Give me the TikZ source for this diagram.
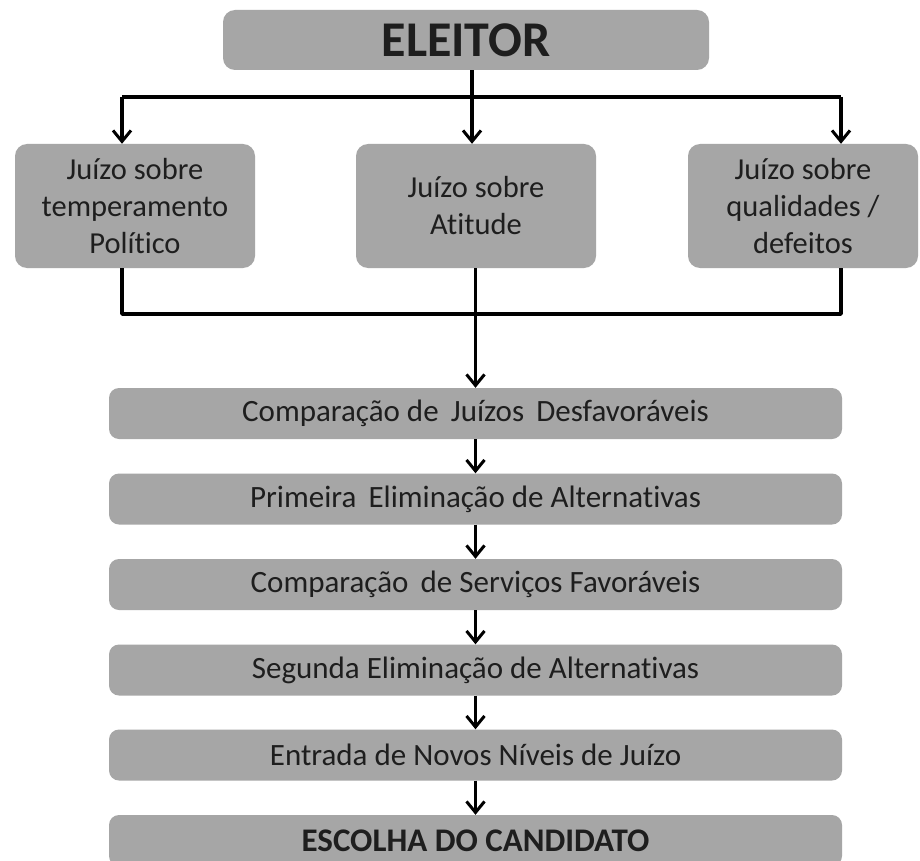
\documentclass[tikz,border=0pt]{standalone}
\usepackage{fontspec}
\setmainfont{Carlito}[Ligatures=NoCommon]
\usepackage{tikz}
\usetikzlibrary{arrows.meta,positioning,calc}
\definecolor{boxgray}{RGB}{166,166,166}
\definecolor{txtdark}{RGB}{30,30,30}
\tikzset{
  box/.style={fill=boxgray, rounded corners=12pt, inner sep=0pt, align=center, text=txtdark},
  bar/.style={box, rounded corners=10pt, minimum width=733pt, minimum height=51pt},
  judge/.style={box, minimum width=240pt, minimum height=124pt, font=\fontsize{30.5}{37}\selectfont},
  link/.style={line width=3.5pt, line join=round, -{Straight Barb[length=11pt,width=18pt,line width=3pt]}},
  wire/.style={line width=3.5pt, line join=round}
}
\begin{document}
\begin{tikzpicture}[x=1pt, y=1pt]
        \clip (0,0) rectangle (920,-861);
        \fill[white] (0,0) rectangle (920,-861);
        \node[box, minimum width=486pt, minimum height=60pt, font=\fontsize{50}{54}\selectfont\bfseries] (eleitor) at (466,-40) {ELEITOR};
        \node[judge] (jtemp) at (135,-206) {Juízo sobre\\temperamento\\Político};
        \node[judge] (jatit) at (476,-206) {Juízo sobre\\Atitude};
        \node[judge, minimum width=230pt] (jqual) at (803,-206) {Juízo sobre\\qualidades /\\defeitos};
        \node[bar, font=\fontsize{31}{34}\selectfont] (compdesf) at (475.5,-413.5) {Comparação de\, Juízos\, Desfavoráveis};
        \node[bar, font=\fontsize{31}{34}\selectfont] (elimA) at (475.5,-499) {Primeira\, Eliminação de Alternativas};
        \node[bar, font=\fontsize{31}{34}\selectfont] (compfav) at (475.5,-584.5) {Comparação\, de Serviços Favoráveis};
        \node[bar, font=\fontsize{31}{34}\selectfont] (elimB) at (475.5,-670) {Segunda Eliminação de Alternativas};
        \node[bar, font=\fontsize{31}{34}\selectfont] (novos) at (475.5,-755) {Entrada de Novos Níveis de Juízo};
        \node[bar, font=\fontsize{33}{36}\selectfont\bfseries] (escolha) at (475.5,-840.5) {ESCOLHA DO CANDIDATO};
        \coordinate (topL) at (122,-97);
        \coordinate (topM) at (472,-97);
        \coordinate (topR) at (841,-97);
        \coordinate (botL) at (122,-314);
        \coordinate (botM) at (475.5,-314);
        \coordinate (botR) at (841,-314);
        \draw[wire] (topL) -- (topR);
        \draw[link] (eleitor.south -| topM) -- (jatit.north -| topM);
        \draw[link] (topL) -- (jtemp.north -| topL);
        \draw[link] (topR) -- (jqual.north -| topR);
        \draw[wire] (jtemp.south -| botL) -- (botL) -- (botR) -- (jqual.south -| botR);
        \draw[wire] (jatit.south -| botM) -- (botM);
        \draw[link] (botM) -- (compdesf.north);
        \draw[link] (compdesf.south) -- (elimA.north);
        \draw[link] (elimA.south) -- (compfav.north);
        \draw[link] (compfav.south) -- (elimB.north);
        \draw[link] (elimB.south) -- (novos.north);
        \draw[link] (novos.south) -- (escolha.north);
    \end{tikzpicture}
\end{document}
